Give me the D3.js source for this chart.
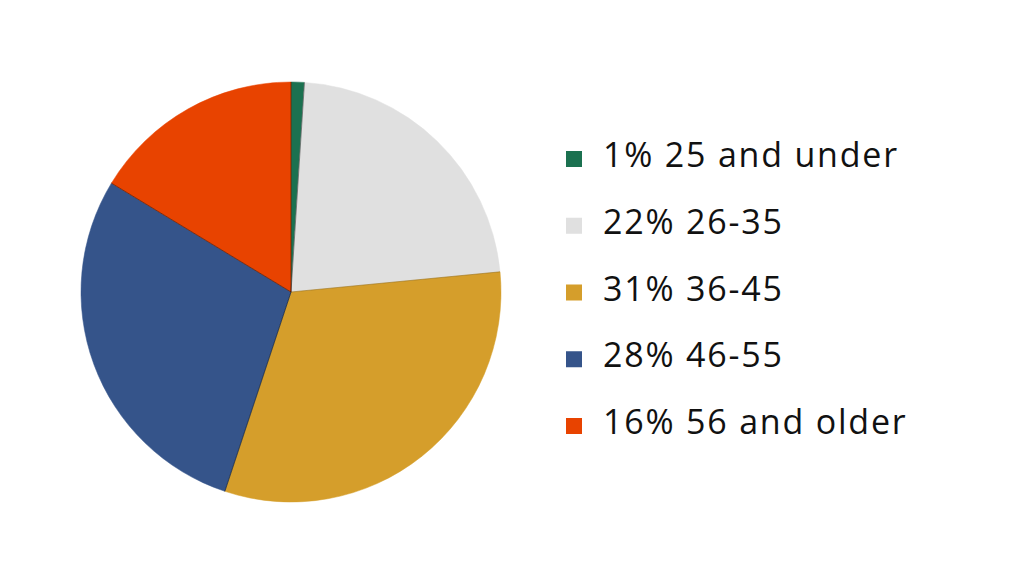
<!DOCTYPE html>
<html>
<head>
<meta charset="utf-8">
<script src="https://cdn.jsdelivr.net/npm/d3@7"></script>
<style>
  html, body { margin: 0; padding: 0; background: #fff; }
  svg { display: block; font-family: "Open Sans", Lato, sans-serif; }
</style>
</head>
<body>
<svg id="chart" width="1024" height="577"></svg>
<script>
// datos
const grupos = ["25 and under", "26-35", "36-45", "46-55", "56 and older"];
const porcentajes = [1, 22, 31, 28, 16];
const colores = ["#1b7150", "#e0e0e0", "#d59e2b", "#35548a", "#e84300"];

const width = 1024;
const height = 577;
const svg = d3.select("#chart");

const cx = 291;
const cy = 292;
const radio = 210;

const pie = d3.pie().sort(null).value(d => d);
const arco = d3.arc().innerRadius(0).outerRadius(radio);
const color = d3.scaleOrdinal().domain(grupos).range(colores);

const g = svg.append("g").attr("transform", `translate(${cx},${cy})`);
const rebanadas = pie(porcentajes);

g.selectAll("path")
  .data(rebanadas)
  .join("path")
  .attr("d", arco)
  .attr("fill", (d, i) => color(grupos[i]))
  .attr("stroke", (d, i) => color(grupos[i]))
  .attr("stroke-width", 0.5);

// lineas finas entre rebanadas
g.selectAll("line.borde")
  .data(rebanadas)
  .join("line")
  .attr("class", "borde")
  .attr("x1", 0)
  .attr("y1", 0)
  .attr("x2", d => radio * Math.sin(d.startAngle))
  .attr("y2", d => -radio * Math.cos(d.startAngle))
  .attr("stroke", (d, i) => i === 2 ? "rgba(0,0,0,0.25)" : "rgba(0,0,0,0.6)")
  .attr("stroke-width", 0.7);

// leyenda
const filaY = d3.scalePoint().domain(grupos).range([159, 426]);

const leyenda = svg.append("g");
const filas = leyenda.selectAll("g")
  .data(grupos)
  .join("g")
  .attr("transform", d => `translate(566,${filaY(d)})`);

filas.append("rect")
  .attr("x", 0)
  .attr("y", -8)
  .attr("width", 16)
  .attr("height", 16)
  .attr("fill", d => color(d));

filas.append("text")
  .attr("x", 37)
  .attr("y", 8)
  .attr("font-size", 34)
  .attr("letter-spacing", 1.8)
  .attr("fill", "#111")
  .text((d, i) => `${porcentajes[i]}% ${d}`);
</script>
</body>
</html>
